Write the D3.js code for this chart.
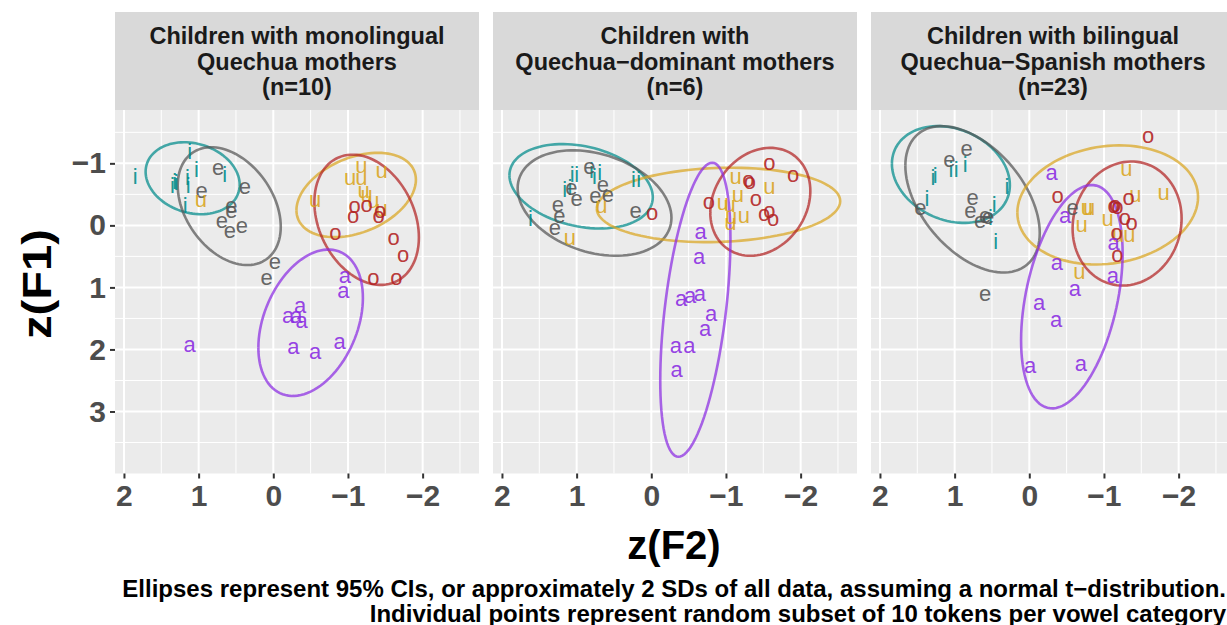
<!DOCTYPE html>
<html>
<head>
<meta charset="utf-8">
<script src="https://cdn.jsdelivr.net/npm/d3@7"></script>
<style>
  body { margin: 0; background: #fff; }
  svg { display: block; font-family: "Liberation Sans", Arial, Helvetica, sans-serif; }
</style>
</head>
<body>
<div id="chart"></div>
<script>
// facet titles (one array of lines per panel)
const panelTitles = [
    ['Children with monolingual', 'Quechua mothers', '(n=10)'],
    ['Children with', 'Quechua\u2212dominant mothers', '(n=6)'],
    ['Children with bilingual', 'Quechua\u2212Spanish mothers', '(n=23)']
];
const vowels = ['i', 'e', 'u', 'o', 'a'];
const vowelColors = ['#008B8B', '#555555', '#DAA520', '#B22222', '#8A2BE2'];
const xTicks = [2, 1, 0, -1, -2];
const yTicks = [-1, 0, 1, 2, 3];

// points: [vowel, z(F2), z(F1)]
const monoPoints = [
    ['i', 1.85, -0.77], ['i', 1.35, -0.63], ['i', 1.32, -0.70], ['i', 1.15, -0.76], ['i', 1.14, -0.63],
    ['i', 1.12, -1.17], ['i', 1.03, -0.89], ['i', 1.18, -0.30], ['i', 0.65, -0.81], ['i', 1.30, -0.68],
    ['e', 0.74, -0.92], ['e', 0.38, -0.62], ['e', 0.96, -0.54], ['e', 0.56, -0.30], ['e', 0.56, -0.22],
    ['e', 0.69, -0.06], ['e', 0.58, 0.10], ['e', 0.42, 0.02], ['e', -0.02, 0.59], ['e', 0.09, 0.86],
    ['u', 0.97, -0.41], ['u', -1.18, -0.95], ['u', -1.03, -0.76], ['u', -1.18, -0.76], ['u', -1.45, -0.87],
    ['u', -0.56, -0.41], ['u', -1.21, -0.54], ['u', -1.25, -0.49], ['u', -1.34, -0.38], ['u', -1.45, -0.25],
    ['o', -1.09, -0.30], ['o', -1.07, -0.14], ['o', -1.25, -0.33], ['o', -1.41, -0.14], ['o', -1.43, -0.22],
    ['o', -0.83, 0.13], ['o', -1.61, 0.21], ['o', -1.74, 0.48], ['o', -1.34, 0.86], ['o', -1.65, 0.86],
    ['a', 1.12, 1.93], ['a', -0.96, 0.83], ['a', -0.94, 1.07], ['a', -0.36, 1.31], ['a', -0.20, 1.47],
    ['a', -0.31, 1.47], ['a', -0.38, 1.55], ['a', -0.27, 1.96], ['a', -0.56, 2.04], ['a', -0.89, 1.88]
];
const domPoints = [
    ['i', 1.06, -0.81], ['i', 1.00, -0.81], ['i', 1.16, -0.57], ['i', 0.76, -0.78], ['i', 0.69, -0.84],
    ['i', 0.24, -0.72], ['i', 0.17, -0.72], ['i', 1.62, -0.09], ['i', 1.09, -0.60], ['i', 0.80, -0.87],
    ['e', 0.83, -0.94], ['e', 1.07, -0.60], ['e', 1.00, -0.42], ['e', 1.25, -0.33], ['e', 1.23, -0.14],
    ['e', 1.29, 0.05], ['e', 0.75, -0.46], ['e', 0.65, -0.65], ['e', 0.58, -0.49], ['e', 0.21, -0.22],
    ['u', 0.67, -0.30], ['u', 1.09, 0.21], ['u', -0.96, -0.35], ['u', -1.16, -0.49], ['u', -1.13, -0.78],
    ['u', -1.06, -0.03], ['u', -1.24, -0.15], ['u', -1.58, -0.62], ['u', -1.05, -0.33], ['u', -1.07, -0.13],
    ['o', -0.01, -0.19], ['o', -0.77, -0.37], ['o', -1.30, -0.73], ['o', -1.32, -0.70], ['o', -1.58, -1.00],
    ['o', -1.90, -0.80], ['o', -1.40, -0.42], ['o', -1.51, -0.18], ['o', -1.58, -0.22], ['o', -1.63, -0.09],
    ['a', -0.66, 0.12], ['a', -0.64, 0.52], ['a', -0.40, 1.20], ['a', -0.52, 1.14], ['a', -0.65, 1.12],
    ['a', -0.80, 1.43], ['a', -0.72, 1.68], ['a', -0.33, 1.95], ['a', -0.51, 1.95], ['a', -0.34, 2.33]
];
const biPoints = [
    ['i', 1.29, -0.76], ['i', 1.26, -0.79], ['i', 1.05, -0.88], ['i', 0.98, -0.88], ['i', 0.86, -0.97],
    ['i', 1.37, -0.42], ['i', 0.30, -0.61], ['i', 0.47, -0.33], ['i', 0.52, -0.11], ['i', 0.45, 0.27],
    ['e', 0.84, -1.23], ['e', 1.07, -1.04], ['e', 1.46, -0.27], ['e', 0.76, -0.44], ['e', 0.79, -0.22],
    ['e', 0.66, -0.06], ['e', 0.59, -0.15], ['e', 0.55, -0.13], ['e', -0.58, -0.27], ['e', 0.59, 1.11],
    ['u', -1.30, -0.90], ['u', -1.42, -0.49], ['u', -1.80, -0.52], ['u', -0.80, -0.27], ['u', -0.77, -0.27],
    ['u', -0.70, 0.00], ['u', -1.05, -0.09], ['u', -1.34, 0.16], ['u', -0.67, 0.76], ['u', -1.19, 0.16],
    ['o', -1.59, -1.44], ['o', -0.38, -0.47], ['o', -1.15, -0.33], ['o', -1.18, -0.29], ['o', -1.33, -0.44],
    ['o', -1.28, -0.11], ['o', -1.37, -0.03], ['o', -1.17, 0.13], ['o', -1.18, 0.48], ['o', -1.13, -0.30],
    ['a', -0.30, -0.84], ['a', -0.48, -0.14], ['a', -1.13, 0.29], ['a', -0.37, 0.61], ['a', -1.12, 0.83],
    ['a', -0.61, 1.04], ['a', -0.13, 1.25], ['a', -0.36, 1.53], ['a', -0.01, 2.28], ['a', -0.69, 2.24]
];

// 95% ellipses: [vowel, centre F2, centre F1, half-width F2, half-height F1, correlation]
const monoEllipses = [
    ['i', 1.08, -0.76, 0.63, 0.58, -0.18],
    ['e', 0.59, -0.31, 0.69, 0.95, -0.35],
    ['u', -1.11, -0.49, 0.80, 0.68, 0.36],
    ['o', -1.25, -0.09, 0.70, 1.05, -0.27],
    ['a', -0.50, 1.57, 0.70, 1.18, 0.34]
];
const domEllipses = [
    ['i', 0.94, -0.63, 0.96, 0.68, -0.26],
    ['e', 0.76, -0.36, 1.03, 0.85, -0.28],
    ['u', -0.90, -0.33, 1.63, 0.60, 0.10],
    ['o', -1.46, -0.38, 0.67, 0.87, 0.20],
    ['a', -0.59, 1.36, 0.47, 2.37, 0.48]
];
const biEllipses = [
    ['i', 1.05, -0.82, 0.79, 0.78, -0.22],
    ['e', 0.76, -0.42, 0.90, 1.18, -0.46],
    ['u', -1.05, -0.33, 1.21, 0.96, 0.13],
    ['o', -1.31, -0.03, 0.73, 1.00, 0.08],
    ['a', -0.57, 1.15, 0.68, 1.80, 0.39]
];

const captionLines = [
    'Ellipses represent 95% CIs, or approximately 2 SDs of all data, assuming a normal t\u2212distribution.',
    'Individual points represent random subset of 10 tokens per vowel category'
];

const panelPoints = [monoPoints, domPoints, biPoints];
const panelEllipses = [monoEllipses, domEllipses, biEllipses];

const width = 1227;
const height = 625;
const panelLeft = [115, 493, 871];
const panelW = 364;
const panelTop = 110;
const panelH = 363.5;
const stripTop = 12;

const x = d3.scaleLinear().domain([2.12, -2.755]).range([0, panelW]);
const y = d3.scaleLinear().domain([-1.86, 4.0]).range([0, panelH]);
const color = d3.scaleOrdinal().domain(vowels).range(vowelColors);

const svg = d3.select('#chart')
    .append('svg')
    .attr('width', width)
    .attr('height', height);

const xMinor = [1.5, 0.5, -0.5, -1.5, -2.5];
const yMinor = [-1.5, -0.5, 0.5, 1.5, 2.5, 3.5];

const ellipseLine = d3.line().x(d => x(d[0])).y(d => y(d[1]));

function ellipsePoints(e) {
    const [, cx, cy, sx, sy, r] = e;
    const phi = Math.acos(r);
    return d3.range(0, 101).map(k => {
        const t = 2 * Math.PI * k / 100;
        return [cx + sx * Math.cos(t), cy + sy * Math.cos(t - phi)];
    });
}

panelTitles.forEach((title, p) => {
    const g = svg.append('g').attr('transform', `translate(${panelLeft[p]}, 0)`);

    // strip
    g.append('rect')
        .attr('x', 0).attr('y', stripTop)
        .attr('width', panelW).attr('height', panelTop - stripTop)
        .attr('fill', '#D9D9D9');
    g.append('g').selectAll('text')
        .data(title)
        .join('text')
        .attr('x', panelW / 2)
        .attr('y', (d, i) => 44 + i * 25.5)
        .attr('text-anchor', 'middle')
        .attr('font-size', '23.5px')
        .attr('font-weight', 'bold')
        .attr('fill', '#1A1A1A')
        .text(d => d);

    const panel = g.append('g').attr('transform', `translate(0, ${panelTop})`);
    panel.append('rect')
        .attr('width', panelW).attr('height', panelH)
        .attr('fill', '#EBEBEB');

    // grid
    panel.append('g').selectAll('line').data(xMinor).join('line')
        .attr('x1', d => x(d)).attr('x2', d => x(d))
        .attr('y1', 0).attr('y2', panelH)
        .attr('stroke', '#fff').attr('stroke-width', 1);
    panel.append('g').selectAll('line').data(yMinor).join('line')
        .attr('x1', 0).attr('x2', panelW)
        .attr('y1', d => y(d)).attr('y2', d => y(d))
        .attr('stroke', '#fff').attr('stroke-width', 1);
    panel.append('g').selectAll('line').data(xTicks).join('line')
        .attr('x1', d => x(d)).attr('x2', d => x(d))
        .attr('y1', 0).attr('y2', panelH)
        .attr('stroke', '#fff').attr('stroke-width', 2);
    panel.append('g').selectAll('line').data(yTicks).join('line')
        .attr('x1', 0).attr('x2', panelW)
        .attr('y1', d => y(d)).attr('y2', d => y(d))
        .attr('stroke', '#fff').attr('stroke-width', 2);

    // ellipses
    panel.append('g').selectAll('path')
        .data(panelEllipses[p])
        .join('path')
        .attr('d', d => ellipseLine(ellipsePoints(d)))
        .attr('fill', 'none')
        .attr('stroke', d => color(d[0]))
        .attr('stroke-opacity', 0.72)
        .attr('stroke-width', 2.6);

    // vowel tokens
    panel.append('g').selectAll('text')
        .data(panelPoints[p])
        .join('text')
        .attr('x', d => x(d[1]))
        .attr('y', d => y(d[2]))
        .attr('dy', '0.3em')
        .attr('text-anchor', 'middle')
        .attr('font-size', '22px')
        .attr('fill', d => color(d[0]))
        .attr('fill-opacity', 0.9)
        .text(d => d[0]);

    // x axis
    const xAxis = g.append('g')
        .attr('transform', `translate(0, ${panelTop + panelH})`)
        .call(d3.axisBottom(x).tickValues(xTicks).tickSize(5).tickPadding(6).tickFormat(d3.format('d')));
    xAxis.select('.domain').remove();
    xAxis.selectAll('line').attr('stroke', '#333').attr('stroke-width', 2);
    xAxis.selectAll('text')
        .attr('font-family', '"Liberation Sans", Arial, sans-serif')
        .attr('font-size', '30px')
        .attr('font-weight', 'bold')
        .attr('fill', '#4D4D4D');

    if (p === 0) {
        const yAxis = g.append('g')
            .attr('transform', `translate(0, ${panelTop})`)
            .call(d3.axisLeft(y).tickValues(yTicks).tickSize(5).tickPadding(4).tickFormat(d3.format('d')));
        yAxis.select('.domain').remove();
        yAxis.selectAll('line').attr('stroke', '#333').attr('stroke-width', 2);
        yAxis.selectAll('text')
            .attr('font-family', '"Liberation Sans", Arial, sans-serif')
            .attr('font-size', '30px')
            .attr('font-weight', 'bold')
            .attr('fill', '#4D4D4D');
    }
});

// axis titles
svg.append('text')
    .attr('x', 674)
    .attr('y', 559)
    .attr('text-anchor', 'middle')
    .attr('font-size', '40px')
    .attr('font-weight', 'bold')
    .attr('fill', '#000')
    .text('z(F2)');

svg.append('text')
    .attr('transform', 'translate(51, 284) rotate(-90)')
    .attr('text-anchor', 'middle')
    .attr('font-size', '40px')
    .attr('font-weight', 'bold')
    .attr('fill', '#000')
    .attr('textLength', 110)
    .attr('lengthAdjust', 'spacingAndGlyphs')
    .text('z(F1)');

// caption
svg.append('g').selectAll('text')
    .data(captionLines)
    .join('text')
    .attr('x', 1226)
    .attr('y', (d, i) => 597 + i * 25)
    .attr('text-anchor', 'end')
    .attr('font-size', '24px')
    .attr('font-weight', 'bold')
    .attr('fill', '#000')
    .text(d => d);
</script>
</body>
</html>
